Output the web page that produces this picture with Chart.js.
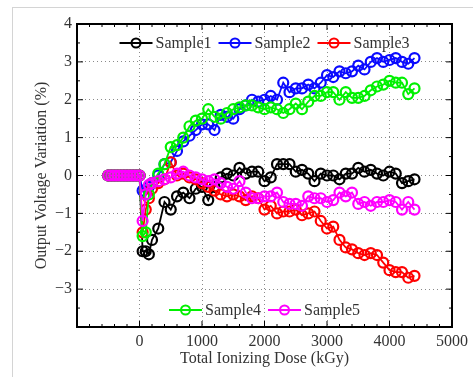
<!DOCTYPE html>
<html>
<head>
<meta charset="utf-8">
<script src="https://cdn.jsdelivr.net/npm/chart.js@4.4.1/dist/chart.umd.min.js"></script>
<style>
  html, body { margin: 0; padding: 0; background: #fff; overflow: hidden; }
  #wrap { position: relative; width: 473px; height: 377px; }
  #frame { position: absolute; left: 12px; top: 7px; width: 470px; height: 380px; border: 1px solid #d4d4d4; }
  canvas { position: absolute; left: 0; top: 0; }
</style>
</head>
<body>
<div id="wrap"><div id="frame"></div><canvas id="grafico" width="473" height="377"></canvas></div>
<script>
// dose (kGy), shared by all samples
var doses = [-500, -450, -400, -350, -300, -250, -200, -150, -100, -50, 0,
    50, 100, 150, 200,
    300, 400, 500, 600, 700, 800, 900, 1000,
    1100, 1200, 1300, 1400, 1500, 1600, 1700, 1800, 1900, 2000,
    2100, 2200, 2300, 2400, 2500, 2600, 2700, 2800, 2900, 3000,
    3100, 3200, 3300, 3400, 3500, 3600, 3700, 3800, 3900, 4000,
    4100, 4200, 4300, 4400];

var sample1 = [0, 0, 0, 0, 0, 0, 0, 0, 0, 0, 0,
    -2.0, -2.0, -2.08, -1.7,
    -1.4, -0.7, -0.9, -0.55, -0.45, -0.6, -0.35, -0.3,
    -0.65, -0.3, -0.05, 0.05, 0.0, 0.2, 0.05, 0.1, 0.1, -0.15,
    -0.05, 0.3, 0.3, 0.3, 0.1, 0.15, 0.05, -0.15, 0.05, 0.0,
    0.0, -0.1, 0.05, 0.05, 0.2, 0.1, 0.15, 0.05, 0.0, 0.1,
    0.05, -0.2, -0.15, -0.1];

var sample2 = [0, 0, 0, 0, 0, 0, 0, 0, 0, 0, 0,
    -0.4, -0.5, -0.3, -0.2,
    0.0, 0.3, 0.35, 0.65, 0.9, 1.05, 1.2, 1.35,
    1.35, 1.2, 1.6, 1.55, 1.5, 1.75, 1.85, 2.0, 1.95, 2.0,
    2.1, 2.0, 2.45, 2.2, 2.3, 2.3, 2.4, 2.3, 2.45, 2.65,
    2.6, 2.75, 2.7, 2.75, 2.9, 2.8, 3.0, 3.1, 3.0, 3.05,
    3.1, 3.0, 2.95, 3.1];

var sample3 = [0, 0, 0, 0, 0, 0, 0, 0, 0, 0, 0,
    -1.5, -0.9, -0.6, -0.35,
    -0.2, -0.1, 0.35, 0.0, 0.05, -0.05, -0.1, -0.2,
    -0.3, -0.4, -0.5, -0.55, -0.5, -0.55, -0.65, -0.55, -0.6, -0.9,
    -0.8, -1.0, -0.95, -0.95, -0.9, -1.05, -1.0, -0.95, -1.2, -1.4,
    -1.35, -1.7, -1.9, -1.95, -2.05, -2.1, -2.05, -2.1, -2.3, -2.5,
    -2.55, -2.55, -2.7, -2.65];

var sample4 = [0, 0, 0, 0, 0, 0, 0, 0, 0, 0, 0,
    -1.6, -1.5, -0.5, -0.2,
    0.05, 0.3, 0.75, 0.8, 1.0, 1.3, 1.45, 1.5,
    1.75, 1.55, 1.5, 1.65, 1.75, 1.8, 1.85, 1.85, 1.8, 1.75,
    1.8, 1.75, 1.65, 1.75, 1.9, 1.75, 1.95, 2.1, 2.1, 2.2,
    2.2, 2.0, 2.2, 2.05, 2.05, 2.1, 2.25, 2.35, 2.4, 2.5,
    2.45, 2.45, 2.15, 2.3];

var sample5 = [0, 0, 0, 0, 0, 0, 0, 0, 0, 0, 0,
    -1.2, -0.5, -0.25, -0.2,
    -0.15, -0.1, -0.05, 0.05, 0.1, 0.0, -0.05, -0.1,
    -0.15, -0.1, -0.2, -0.3, -0.35, -0.15, -0.45, -0.6, -0.6, -0.55,
    -0.55, -0.45, -0.7, -0.75, -0.75, -0.8, -0.55, -0.6, -0.6, -0.7,
    -0.65, -0.45, -0.55, -0.45, -0.75, -0.7, -0.8, -0.7, -0.7, -0.65,
    -0.7, -0.9, -0.7, -0.9];

var nomes = ['Sample1', 'Sample2', 'Sample3', 'Sample4', 'Sample5'];
var cores = ['#000000', '#0a0aff', '#ff0000', '#00f000', '#ff00ff'];
var series = [sample1, sample2, sample3, sample4, sample5];

var fonte = '"Liberation Serif", "Times New Roman", serif';

function menos(v) {
    return String(v).replace('-', '\u2212');
}

// caixa preta, ticks internos e as duas legendas dentro da área
var moldura = {
    id: 'moldura',
    afterDatasetsDraw: function (chart) {
        var ctx = chart.ctx, a = chart.chartArea;
        var x = chart.scales.x, y = chart.scales.y;
        ctx.save();
        ctx.strokeStyle = '#000';
        ctx.lineWidth = 1;
        ctx.beginPath();
        for (var v = -1000; v <= 5000; v += 200) {
            var px = x.getPixelForValue(v);
            var len = v % 1000 === 0 ? 6 : 3;
            ctx.moveTo(px, a.bottom); ctx.lineTo(px, a.bottom - len);
            ctx.moveTo(px, a.top); ctx.lineTo(px, a.top + len);
        }
        for (var w = -4; w <= 4; w += 0.5) {
            var py = y.getPixelForValue(w);
            var l2 = w % 1 === 0 ? 6 : 3;
            ctx.moveTo(a.left, py); ctx.lineTo(a.left + l2, py);
            ctx.moveTo(a.right, py); ctx.lineTo(a.right - l2, py);
        }
        ctx.stroke();
        ctx.lineWidth = 2;
        ctx.strokeRect(a.left, a.top, a.right - a.left, a.bottom - a.top);
        ctx.restore();
    },
    afterDraw: function (chart) {
        var a = chart.chartArea;
        var cx = (a.left + a.right) / 2;
        desenhaLegenda(chart.ctx, [0, 1, 2], cx, a.top + 19);
        desenhaLegenda(chart.ctx, [3, 4], cx, a.bottom - 17);
    }
};

function desenhaLegenda(ctx, idx, cx, cy) {
    var linha = 33, gap = 3, sep = 7;
    ctx.save();
    ctx.font = '16px ' + fonte;
    var larguras = idx.map(function (i) { return linha + gap + ctx.measureText(nomes[i]).width; });
    var total = larguras.reduce(function (s, v) { return s + v; }, 0) + sep * (idx.length - 1);
    var x0 = cx - total / 2;
    idx.forEach(function (i, k) {
        ctx.strokeStyle = cores[i];
        ctx.lineWidth = 1.8;
        ctx.beginPath();
        ctx.moveTo(x0, cy); ctx.lineTo(x0 + linha, cy);
        ctx.stroke();
        ctx.lineWidth = 2;
        ctx.beginPath();
        ctx.arc(x0 + linha / 2, cy, 4.5, 0, Math.PI * 2);
        ctx.stroke();
        ctx.fillStyle = '#333';
        ctx.textBaseline = 'middle';
        ctx.textAlign = 'left';
        ctx.fillText(nomes[i], x0 + linha + gap, cy + 1);
        x0 += larguras[k] + sep;
    });
    ctx.restore();
}

document.addEventListener('DOMContentLoaded', function () {
    if (typeof Chart === 'undefined') {
        console.error('Chart.js não foi carregado.');
        return;
    }

    var datasets = series.map(function (s, i) {
        return {
            label: nomes[i],
            data: doses.map(function (d, j) { return { x: d, y: s[j] }; }),
            borderColor: cores[i],
            backgroundColor: 'transparent',
            borderWidth: 1.8,
            pointRadius: 5,
            pointBorderWidth: 2.2,
            pointBorderColor: cores[i],
            pointBackgroundColor: 'transparent',
            tension: 0,
            order: 5 - i
        };
    });

    new Chart(document.getElementById('grafico'), {
        type: 'line',
        data: { datasets: datasets },
        options: {
            responsive: false,
            animation: false,
            layout: { padding: { top: 24, right: 17, left: 0, bottom: 0 } },
            plugins: { legend: { display: false }, tooltip: { enabled: false } },
            scales: {
                x: {
                    type: 'linear',
                    min: -1000,
                    max: 5000,
                    afterFit: function (s) { s.height = 50; },
                    ticks: {
                        stepSize: 1000,
                        padding: 5,
                        color: '#333',
                        font: { family: fonte, size: 16 },
                        maxRotation: 0,
                        callback: function (v) { return v === -1000 ? '' : menos(v); }
                    },
                    grid: {
                        drawTicks: false,
                        color: function (c) {
                            var v = c.tick && c.tick.value;
                            return (v === -1000 || v === 5000) ? 'transparent' : '#8a8a8a';
                        },
                        lineWidth: 1
                    },
                    border: { display: false, dash: [1, 3] },
                    title: {
                        display: true,
                        text: 'Total Ionizing Dose (kGy)',
                        color: '#333',
                        font: { family: fonte, size: 16 },
                        padding: { top: 0, bottom: 9 }
                    }
                },
                y: {
                    min: -4,
                    max: 4,
                    afterFit: function (s) { s.width = 77; },
                    ticks: {
                        stepSize: 1,
                        padding: 5,
                        color: '#333',
                        font: { family: fonte, size: 16 },
                        callback: function (v) { return v === -4 ? '' : menos(v); }
                    },
                    grid: {
                        drawTicks: false,
                        color: function (c) {
                            var v = c.tick && c.tick.value;
                            return (v === -4 || v === 4) ? 'transparent' : '#8a8a8a';
                        },
                        lineWidth: 1
                    },
                    border: { display: false, dash: [1, 3] },
                    title: {
                        display: true,
                        text: 'Output Voltage Variation (%)',
                        color: '#333',
                        font: { family: fonte, size: 16 },
                        padding: { top: 32, bottom: 0 }
                    }
                }
            }
        },
        plugins: [moldura]
    });
});
</script>
</body>
</html>
